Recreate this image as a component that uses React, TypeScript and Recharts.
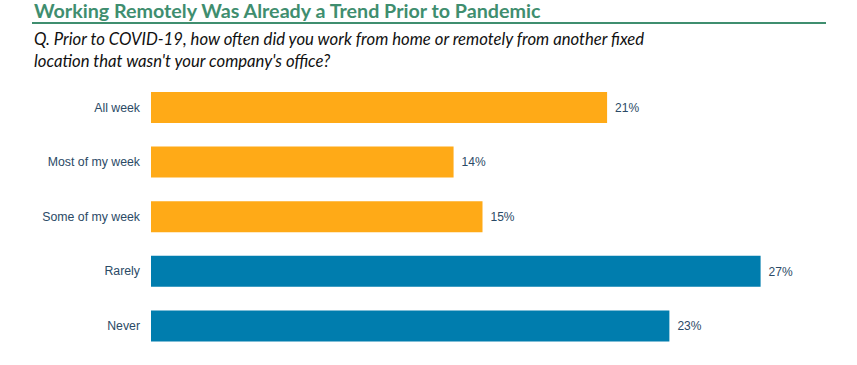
import React from 'react';
import { BarChart, Bar, XAxis, YAxis, Cell, LabelList } from 'recharts';

const categories = ['All week', 'Most of my week', 'Some of my week', 'Rarely', 'Never'];
const values = [20.5, 13.6, 14.9, 27.4, 23.3];
const valueLabels = ['21%', '14%', '15%', '27%', '23%'];
const groups = ['pre', 'pre', 'pre', 'low', 'low'];

const colors: Record<string, string> = { pre: '#FFAA17', low: '#007DAE' };

const data = categories.map((c, i) => ({ name: c, value: values[i], label: valueLabels[i], group: groups[i] }));

export default function App() {
  return (
    <div style={{ position: 'absolute', left: 0, top: 0, width: 857, height: 365, background: '#fff', overflow: 'hidden' }}>
      <div style={{ position: 'absolute', left: 34, top: 0, fontFamily: 'Lato, sans-serif', fontWeight: 700, fontSize: 19.7, color: '#3F8E6F', lineHeight: '22px', whiteSpace: 'nowrap' }}>
        Working Remotely Was Already a Trend Prior to Pandemic
      </div>
      <div style={{ position: 'absolute', left: 32, top: 22, width: 794, height: 2, background: '#3F8E6F' }} />
      <div style={{ position: 'absolute', left: 34, top: 28, fontFamily: 'Lato, sans-serif', fontStyle: 'italic', fontSize: 16.7, color: '#111', lineHeight: '22px', whiteSpace: 'nowrap' }}>
        Q. Prior to COVID-19, how often did you work from home or remotely from another fixed<br />
        location that wasn't your company's office?
      </div>
      <div style={{ position: 'absolute', left: 0, top: 0 }}>
        <BarChart width={857} height={365} data={data} layout="vertical" margin={{ top: 80, right: 43, bottom: 12, left: 0 }}>
          <XAxis type="number" domain={[0, 29.8]} hide />
          <YAxis type="category" dataKey="name" width={151} tickLine={false} axisLine={false} tickSize={0} tickMargin={11}
            tick={{ fontFamily: 'Liberation Sans, Arial, sans-serif', fontSize: 12.3, fill: '#2B4A66' }} />
          <Bar dataKey="value" barSize={31} isAnimationActive={false}>
            {data.map((d, i) => <Cell key={i} fill={colors[d.group]} />)}
            <LabelList dataKey="label" position="right" offset={8} style={{ fontFamily: 'Liberation Sans, Arial, sans-serif', fontSize: 12, fill: '#2B4A66' }} />
          </Bar>
        </BarChart>
      </div>
    </div>
  );
}
